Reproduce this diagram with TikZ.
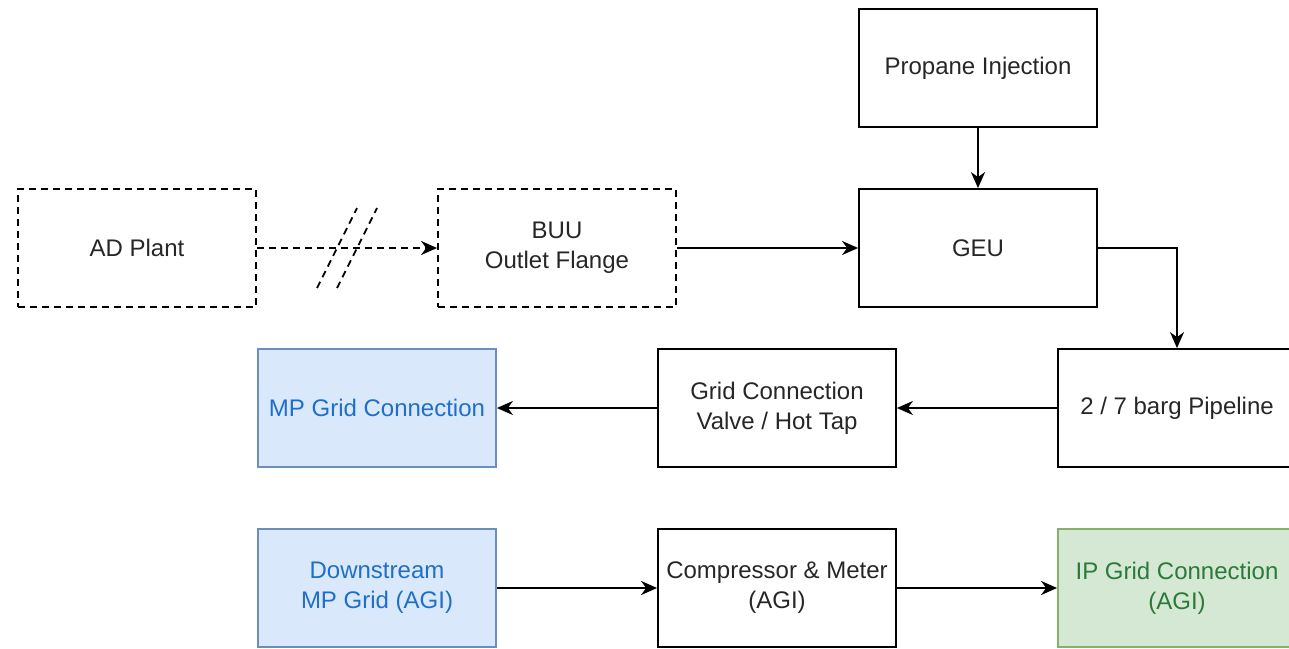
\documentclass[tikz,border=0pt]{standalone}
\usepackage{fontspec}
\setmainfont{Liberation Sans}
\usetikzlibrary{arrows.meta}

\definecolor{bluefill}{HTML}{DAE8FC}
\definecolor{bluedraw}{HTML}{6C8EBF}
\definecolor{bluetext}{HTML}{1F6FC8}
\definecolor{greenfill}{HTML}{D5E8D4}
\definecolor{greendraw}{HTML}{82B366}
\definecolor{greentext}{HTML}{2A7A3A}

\begin{document}
\begin{tikzpicture}[x=0.5pt, y=-0.5pt,
    block/.style={draw, line width=0.9pt, minimum width=119pt, minimum height=59pt,
      align=center, font=\fontsize{12}{15}\selectfont, text=black!85},
    dashblock/.style={block, dash pattern=on 3.5pt off 2.5pt},
    mpblock/.style={block, fill=bluefill, draw=bluedraw, text=bluetext},
    ipblock/.style={block, fill=greenfill, draw=greendraw, text=greentext},
    flow/.style={line width=0.9pt, -{Stealth[length=8pt, width=7pt, inset=2.5pt]}}]
  \useasboundingbox (0,0) rectangle (1289,648);

  % Top row
  \node[block] (propane) at (978,68) {Propane Injection};
  \node[dashblock] (adplant) at (137,248) {AD Plant};
  \node[dashblock] (buu) at (557,248) {BUU\\Outlet Flange};
  \node[block] (geu) at (978,248) {GEU};

  % Middle row
  \node[block] (pipeline) at (1177,408) {2 / 7 barg Pipeline};
  \node[block] (valve) at (777,408) {Grid Connection\\Valve / Hot Tap};
  \node[mpblock] (mpgrid) at (377,408) {MP Grid Connection};

  % Bottom row
  \node[mpblock] (downstream) at (377,588) {Downstream\\MP Grid (AGI)};
  \node[block] (compressor) at (777,588) {Compressor \& Meter\\(AGI)};
  \node[ipblock] (ipgrid) at (1177,588) {IP Grid Connection\\(AGI)};

  % Break in the AD plant line
  \draw[flow, dash pattern=on 3.5pt off 2.5pt] (adplant) -- (buu);
  \coordinate (brk) at (347,248);
  \draw[line width=0.9pt, dash pattern=on 3.5pt off 2.5pt] ([shift={(-30,40)}]brk) -- ([shift={(10,-40)}]brk);
  \draw[line width=0.9pt, dash pattern=on 3.5pt off 2.5pt] ([shift={(-10,40)}]brk) -- ([shift={(30,-40)}]brk);

  % Connectors
  \draw[flow] (propane) -- (geu);
  \draw[flow] (buu) -- (geu);
  \draw[flow] (geu.east) -| (pipeline.north);
  \draw[flow] (pipeline) -- (valve);
  \draw[flow] (valve) -- (mpgrid);
  \draw[flow] (downstream) -- (compressor);
  \draw[flow] (compressor) -- (ipgrid);
\end{tikzpicture}
\end{document}
